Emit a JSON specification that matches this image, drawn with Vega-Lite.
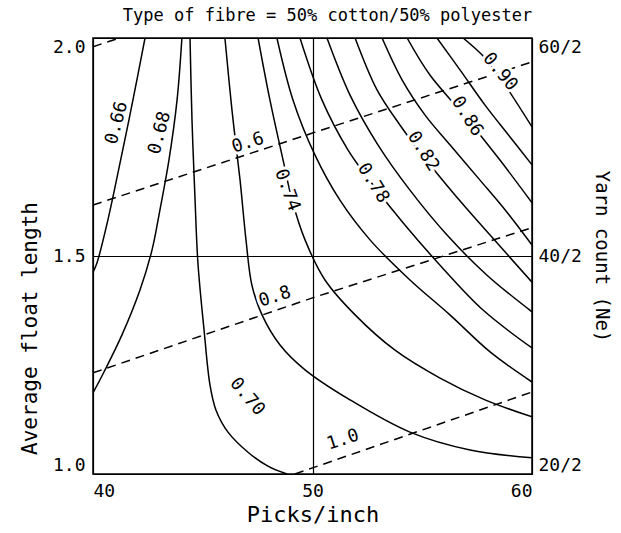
{
  "$schema": "https://vega.github.io/schema/vega-lite/v6.json",
  "width": 439,
  "height": 436,
  "autosize": "none",
  "padding": {"left": 93, "top": 38, "right": 89, "bottom": 59},
  "background": "white",
  "config": {
    "view": {"stroke": "black", "strokeWidth": 1.5},
    "font": "DejaVu Sans Mono",
    "axis": {"labelFont": "DejaVu Sans Mono", "titleFont": "DejaVu Sans Mono", "labelColor": "black", "titleColor": "black", "titleFontWeight": "normal", "labelFontSize": 18, "titleFontSize": 21, "ticks": false, "domain": false},
    "text": {"font": "DejaVu Sans Mono", "fontSize": 18, "color": "black"}
  },
  "title": {"text": "Type of fibre = 50% cotton/50% polyester", "font": "DejaVu Sans Mono", "fontSize": 17, "fontWeight": "normal", "color": "black", "offset": 13, "dx": 15},
  "datasets": {
    "solid": [
      {"c": "0.66", "o": 1, "x": 42.37, "y": 2.0},
      {"c": "0.66", "o": 2, "x": 41.82, "y": 1.858},
      {"c": "0.66", "o": 3, "x": 41.23, "y": 1.713},
      {"c": "0.66", "o": 4, "x": 40.68, "y": 1.583},
      {"c": "0.66", "o": 5, "x": 40.18, "y": 1.484},
      {"c": "0.66", "o": 6, "x": 40.0, "y": 1.463},
      {"c": "0.68", "o": 1, "x": 44.05, "y": 2.0},
      {"c": "0.68", "o": 2, "x": 43.83, "y": 1.858},
      {"c": "0.68", "o": 3, "x": 43.46, "y": 1.72},
      {"c": "0.68", "o": 4, "x": 43.05, "y": 1.606},
      {"c": "0.68", "o": 5, "x": 42.69, "y": 1.514},
      {"c": "0.68", "o": 6, "x": 42.14, "y": 1.422},
      {"c": "0.68", "o": 7, "x": 41.32, "y": 1.319},
      {"c": "0.68", "o": 8, "x": 40.5, "y": 1.234},
      {"c": "0.68", "o": 9, "x": 40.0, "y": 1.186},
      {"c": "0.70", "o": 1, "x": 44.42, "y": 2.0},
      {"c": "0.70", "o": 2, "x": 44.51, "y": 1.812},
      {"c": "0.70", "o": 3, "x": 44.65, "y": 1.628},
      {"c": "0.70", "o": 4, "x": 44.78, "y": 1.484},
      {"c": "0.70", "o": 5, "x": 45.06, "y": 1.33},
      {"c": "0.70", "o": 6, "x": 45.33, "y": 1.204},
      {"c": "0.70", "o": 7, "x": 45.6, "y": 1.147},
      {"c": "0.70", "o": 8, "x": 46.15, "y": 1.096},
      {"c": "0.70", "o": 9, "x": 47.06, "y": 1.05},
      {"c": "0.70", "o": 10, "x": 47.97, "y": 1.018},
      {"c": "0.70", "o": 11, "x": 48.84, "y": 1.0},
      {"c": "0.72", "o": 1, "x": 46.01, "y": 2.0},
      {"c": "0.72", "o": 2, "x": 46.33, "y": 1.835},
      {"c": "0.72", "o": 3, "x": 46.7, "y": 1.674},
      {"c": "0.72", "o": 4, "x": 46.97, "y": 1.537},
      {"c": "0.72", "o": 5, "x": 47.24, "y": 1.433},
      {"c": "0.72", "o": 6, "x": 47.7, "y": 1.365},
      {"c": "0.72", "o": 7, "x": 48.52, "y": 1.296},
      {"c": "0.72", "o": 8, "x": 49.66, "y": 1.239},
      {"c": "0.72", "o": 9, "x": 51.71, "y": 1.17},
      {"c": "0.72", "o": 10, "x": 54.44, "y": 1.096},
      {"c": "0.72", "o": 11, "x": 57.18, "y": 1.055},
      {"c": "0.72", "o": 12, "x": 60.0, "y": 1.037},
      {"c": "0.74", "o": 1, "x": 47.52, "y": 2.0},
      {"c": "0.74", "o": 2, "x": 48.06, "y": 1.858},
      {"c": "0.74", "o": 3, "x": 48.66, "y": 1.72},
      {"c": "0.74", "o": 4, "x": 49.07, "y": 1.628},
      {"c": "0.74", "o": 5, "x": 49.66, "y": 1.537},
      {"c": "0.74", "o": 6, "x": 50.57, "y": 1.445},
      {"c": "0.74", "o": 7, "x": 51.94, "y": 1.365},
      {"c": "0.74", "o": 8, "x": 53.76, "y": 1.284},
      {"c": "0.74", "o": 9, "x": 55.81, "y": 1.22},
      {"c": "0.74", "o": 10, "x": 57.86, "y": 1.17},
      {"c": "0.74", "o": 11, "x": 60.0, "y": 1.131},
      {"c": "0.76", "o": 1, "x": 48.38, "y": 2.0},
      {"c": "0.76", "o": 2, "x": 49.11, "y": 1.858},
      {"c": "0.76", "o": 3, "x": 50.11, "y": 1.732},
      {"c": "0.76", "o": 4, "x": 51.25, "y": 1.628},
      {"c": "0.76", "o": 5, "x": 52.62, "y": 1.537},
      {"c": "0.76", "o": 6, "x": 54.44, "y": 1.445},
      {"c": "0.76", "o": 7, "x": 56.26, "y": 1.365},
      {"c": "0.76", "o": 8, "x": 58.09, "y": 1.28},
      {"c": "0.76", "o": 9, "x": 60.0, "y": 1.211},
      {"c": "0.78", "o": 1, "x": 49.43, "y": 2.0},
      {"c": "0.78", "o": 2, "x": 50.43, "y": 1.858},
      {"c": "0.78", "o": 3, "x": 51.62, "y": 1.743},
      {"c": "0.78", "o": 4, "x": 52.76, "y": 1.663},
      {"c": "0.78", "o": 5, "x": 54.21, "y": 1.571},
      {"c": "0.78", "o": 6, "x": 55.81, "y": 1.479},
      {"c": "0.78", "o": 7, "x": 57.77, "y": 1.376},
      {"c": "0.78", "o": 8, "x": 60.0, "y": 1.289},
      {"c": "0.80", "o": 1, "x": 50.66, "y": 2.0},
      {"c": "0.80", "o": 2, "x": 51.71, "y": 1.869},
      {"c": "0.80", "o": 3, "x": 52.98, "y": 1.755},
      {"c": "0.80", "o": 4, "x": 54.44, "y": 1.651},
      {"c": "0.80", "o": 5, "x": 56.13, "y": 1.548},
      {"c": "0.80", "o": 6, "x": 57.95, "y": 1.456},
      {"c": "0.80", "o": 7, "x": 60.0, "y": 1.372},
      {"c": "0.82", "o": 1, "x": 51.94, "y": 2.0},
      {"c": "0.82", "o": 2, "x": 52.94, "y": 1.881},
      {"c": "0.82", "o": 3, "x": 53.99, "y": 1.8},
      {"c": "0.82", "o": 4, "x": 55.03, "y": 1.73},
      {"c": "0.82", "o": 5, "x": 56.49, "y": 1.64},
      {"c": "0.82", "o": 6, "x": 58.09, "y": 1.548},
      {"c": "0.82", "o": 7, "x": 60.0, "y": 1.44},
      {"c": "0.84", "o": 1, "x": 53.17, "y": 2.0},
      {"c": "0.84", "o": 2, "x": 54.08, "y": 1.904},
      {"c": "0.84", "o": 3, "x": 55.13, "y": 1.823},
      {"c": "0.84", "o": 4, "x": 56.26, "y": 1.755},
      {"c": "0.84", "o": 5, "x": 57.63, "y": 1.674},
      {"c": "0.84", "o": 6, "x": 58.77, "y": 1.606},
      {"c": "0.84", "o": 7, "x": 60.0, "y": 1.525},
      {"c": "0.86", "o": 1, "x": 54.31, "y": 2.0},
      {"c": "0.86", "o": 2, "x": 55.35, "y": 1.915},
      {"c": "0.86", "o": 3, "x": 57.04, "y": 1.815},
      {"c": "0.86", "o": 4, "x": 58.54, "y": 1.72},
      {"c": "0.86", "o": 5, "x": 60.0, "y": 1.622},
      {"c": "0.88", "o": 1, "x": 55.67, "y": 2.0},
      {"c": "0.88", "o": 2, "x": 56.72, "y": 1.927},
      {"c": "0.88", "o": 3, "x": 57.86, "y": 1.846},
      {"c": "0.88", "o": 4, "x": 59.0, "y": 1.773},
      {"c": "0.88", "o": 5, "x": 60.0, "y": 1.709},
      {"c": "0.90", "o": 1, "x": 56.86, "y": 2.0},
      {"c": "0.90", "o": 2, "x": 57.86, "y": 1.954},
      {"c": "0.90", "o": 3, "x": 58.77, "y": 1.892},
      {"c": "0.90", "o": 4, "x": 60.0, "y": 1.796}
    ],
    "dashed": [
      {"c": "0.4", "o": 1, "x": 40.0, "y": 1.98},
      {"c": "0.4", "o": 2, "x": 41.2, "y": 2.0},
      {"c": "0.6", "o": 1, "x": 40.0, "y": 1.617},
      {"c": "0.6", "o": 2, "x": 50.0, "y": 1.782},
      {"c": "0.6", "o": 3, "x": 60.0, "y": 1.945},
      {"c": "0.8", "o": 1, "x": 40.0, "y": 1.232},
      {"c": "0.8", "o": 2, "x": 50.0, "y": 1.404},
      {"c": "0.8", "o": 3, "x": 60.0, "y": 1.565},
      {"c": "1.0", "o": 1, "x": 49.2, "y": 1.0},
      {"c": "1.0", "o": 2, "x": 50.0, "y": 1.014},
      {"c": "1.0", "o": 3, "x": 60.0, "y": 1.188}
    ],
    "labels": [
      {"t": "0.66", "x": 41.09, "y": 1.805},
      {"t": "0.68", "x": 43.05, "y": 1.782},
      {"t": "0.70", "x": 47.02, "y": 1.177},
      {"t": "0.74", "x": 48.84, "y": 1.651},
      {"t": "0.78", "x": 52.76, "y": 1.667},
      {"t": "0.82", "x": 55.03, "y": 1.74},
      {"t": "0.86", "x": 57.04, "y": 1.82},
      {"t": "0.90", "x": 58.54, "y": 1.922},
      {"t": "0.6", "x": 47.06, "y": 1.759},
      {"t": "0.8", "x": 48.29, "y": 1.406},
      {"t": "1.0", "x": 51.39, "y": 1.078}
    ]
  },
  "layer": [
    {
      "data": {"name": "solid"},
      "mark": {"type": "line", "color": "black", "strokeWidth": 1.5, "interpolate": "catmull-rom", "clip": true},
      "encoding": {
        "x": {"field": "x", "type": "quantitative", "scale": {"domain": [40, 60], "nice": false, "zero": false},
              "axis": {"title": "Picks/inch", "values": [40, 50, 60], "format": "d", "grid": true, "gridColor": "black", "gridOpacity": 1, "gridWidth": 1.2, "labelPadding": 8, "titlePadding": 4, "titleFontSize": 22}},
        "y": {"field": "y", "type": "quantitative", "scale": {"domain": [1, 2], "nice": false, "zero": false},
              "axis": {"title": "Average float length", "orient": "left", "values": [1, 1.5, 2], "format": ".1f", "grid": true, "gridColor": "black", "gridOpacity": 1, "gridWidth": 1.2, "labelFlush": true, "labelPadding": 8, "titlePadding": 12, "titleY": 290}},
        "detail": {"field": "c", "type": "nominal"},
        "order": {"field": "o", "type": "quantitative"}
      }
    },
    {
      "data": {"name": "dashed"},
      "mark": {"type": "line", "color": "black", "strokeWidth": 1.5, "strokeDash": [9, 6], "clip": true},
      "encoding": {
        "x": {"field": "x", "type": "quantitative", "scale": {"domain": [40, 60], "nice": false, "zero": false}},
        "y": {"field": "y", "type": "quantitative", "scale": {"domain": [1, 2], "nice": false, "zero": false},
              "axis": {"title": "Yarn count (Ne)", "orient": "right", "values": [1, 1.5, 2], "grid": false, "labelFlush": true, "labelPadding": 6, "titlePadding": 10, "titleFontSize": 19,
                       "labelExpr": "datum.value == 1 ? '20/2' : datum.value == 1.5 ? '40/2' : '60/2'"}},
        "detail": {"field": "c", "type": "nominal"},
        "order": {"field": "o", "type": "quantitative"}
      }
    },
    {
      "data": {"name": "labels"},
      "transform": [{"filter": "indexof(['0.66','0.68'], datum.t) >= 0"}],
      "encoding": {
        "x": {"field": "x", "type": "quantitative", "scale": {"domain": [40, 60], "nice": false, "zero": false}},
        "y": {"field": "y", "type": "quantitative", "scale": {"domain": [1, 2], "nice": false, "zero": false}, "axis": null},
        "text": {"field": "t"}
      },
      "layer": [
        {"mark": {"type": "text", "angle": -75, "stroke": "white", "strokeWidth": 6}},
        {"mark": {"type": "text", "angle": -75}}
      ]
    },
    {
      "data": {"name": "labels"},
      "transform": [{"filter": "datum.t == '0.74'"}],
      "encoding": {
        "x": {"field": "x", "type": "quantitative", "scale": {"domain": [40, 60], "nice": false, "zero": false}},
        "y": {"field": "y", "type": "quantitative", "scale": {"domain": [1, 2], "nice": false, "zero": false}, "axis": null},
        "text": {"field": "t"}
      },
      "layer": [
        {"mark": {"type": "text", "angle": 70, "stroke": "white", "strokeWidth": 6}},
        {"mark": {"type": "text", "angle": 70}}
      ]
    },
    {
      "data": {"name": "labels"},
      "transform": [{"filter": "indexof(['0.78','0.82','0.86'], datum.t) >= 0"}],
      "encoding": {
        "x": {"field": "x", "type": "quantitative", "scale": {"domain": [40, 60], "nice": false, "zero": false}},
        "y": {"field": "y", "type": "quantitative", "scale": {"domain": [1, 2], "nice": false, "zero": false}, "axis": null},
        "text": {"field": "t"}
      },
      "layer": [
        {"mark": {"type": "text", "angle": 58, "stroke": "white", "strokeWidth": 6}},
        {"mark": {"type": "text", "angle": 58}}
      ]
    },
    {
      "data": {"name": "labels"},
      "transform": [{"filter": "indexof(['0.90','0.70'], datum.t) >= 0"}],
      "encoding": {
        "x": {"field": "x", "type": "quantitative", "scale": {"domain": [40, 60], "nice": false, "zero": false}},
        "y": {"field": "y", "type": "quantitative", "scale": {"domain": [1, 2], "nice": false, "zero": false}, "axis": null},
        "text": {"field": "t"}
      },
      "layer": [
        {"mark": {"type": "text", "angle": 50, "stroke": "white", "strokeWidth": 6}},
        {"mark": {"type": "text", "angle": 50}}
      ]
    },
    {
      "data": {"name": "labels"},
      "transform": [{"filter": "indexof(['0.6','0.8','1.0'], datum.t) >= 0"}],
      "encoding": {
        "x": {"field": "x", "type": "quantitative", "scale": {"domain": [40, 60], "nice": false, "zero": false}},
        "y": {"field": "y", "type": "quantitative", "scale": {"domain": [1, 2], "nice": false, "zero": false}, "axis": null},
        "text": {"field": "t"}
      },
      "layer": [
        {"mark": {"type": "text", "angle": -18, "stroke": "white", "strokeWidth": 6}},
        {"mark": {"type": "text", "angle": -18}}
      ]
    }
  ],
  "resolve": {"scale": {"y": "independent"}, "axis": {"y": "independent"}}
}
